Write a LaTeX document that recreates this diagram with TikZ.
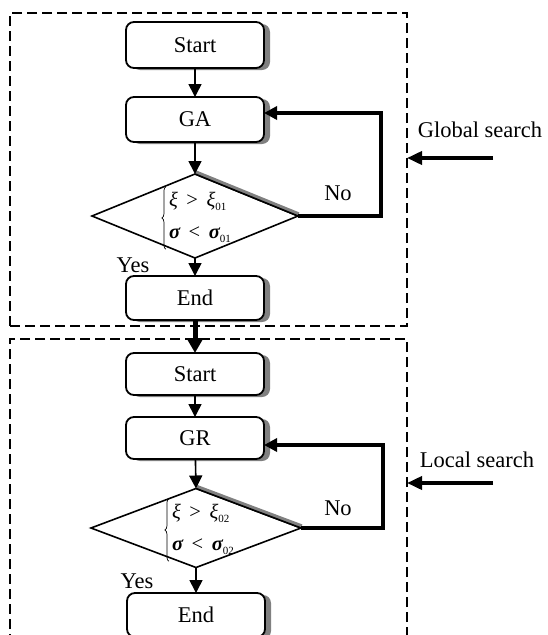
\documentclass[tikz,border=0pt]{standalone}
\usepackage{fontspec}
\setmainfont{Liberation Serif}
\usetikzlibrary{arrows.meta,shapes.geometric,shadows,calc,decorations.pathreplacing}

\newcommand{\sub}[1]{\raisebox{-3.5pt}{\fontsize{11}{11}\selectfont #1}}
\newcommand{\cond}[1]{\begin{tabular}{@{}l@{}}%
  {\itshape ξ} \,>\, {\itshape ξ}\sub{#1}\\[8pt]
  {\bfseries\itshape σ} \,<\, {\bfseries\itshape σ}\sub{#1}%
  \end{tabular}}

\begin{document}
\begin{tikzpicture}[x=1pt,y=-1pt,
  every node/.style={font=\fontsize{22.5}{27}\selectfont},
  box/.style={draw, line width=1.8pt, rounded corners=8pt, fill=white,
    minimum width=138pt, minimum height=44pt, inner sep=0pt, outer sep=0pt,
    drop shadow={shadow xshift=6pt, shadow yshift=-2pt, fill=black!50, opacity=1}},
  decision/.style={diamond, draw, line width=1.6pt, fill=white,
    inner sep=0pt, outer sep=0pt},
  cond/.style={font=\fontsize{20.5}{24}\selectfont, inner sep=0pt},
  condbrace/.style={decorate, decoration={brace, amplitude=4pt}, line width=0.7pt},
  frame/.style={draw, line width=2.4pt, dash pattern=on 10pt off 5pt, inner sep=0pt, outer sep=0pt},
  arr/.style={line width=1.6pt, -{Triangle[width=13pt,length=13pt]}},
  bigarr/.style={line width=5pt, -{Triangle[width=16pt,length=15pt]}},
  loopline/.style={line width=3.6pt, -{Triangle[width=13pt,length=13pt]}},
  sidearr/.style={line width=3.6pt, -{Triangle[width=13pt,length=15pt]}},
  dshadow/.style={line width=3.5pt, black!50},
]
\useasboundingbox (0,0) rectangle (547,635);

% dashed stage frames
\node[frame, minimum width=397pt, minimum height=313pt] (f1) at (208.5,169.5) {};
\node[frame, minimum width=397pt, minimum height=321pt] (f2) at (208.5,499.5) {};

% ---- global search stage ----
\node[box, minimum height=46pt] (s1) at (195,45) {Start};
\node[box, minimum height=45pt] (ga) at (195,119.5) {GA};
\node[decision, minimum width=206pt, minimum height=84pt] (d1) at (195,216) {};
\draw[dshadow] ([shift={(0.8,-1.9)}]d1.north) -- ([shift={(0.8,-1.9)}]d1.east);
\draw[line width=1.6pt] (d1.north) -- (d1.east);
\node[cond] (c1) at (200,218) {\cond{01}};
\draw[condbrace] ([shift={(-3,3)}]c1.south west) -- ([shift={(-3,-3)}]c1.north west);
\node[box] (e1) at (195,298) {End};

\draw[arr] (s1) -- (ga);
\draw[arr] (ga) -- (d1.north);
\draw[arr] (d1.south) -- (e1);
\coordinate (l1) at (381,113);
\draw[loopline] (d1.east) -| (l1) -- (l1 -| ga.east);
\node (no1) at (338,193) {No};
\node (yes1) at (133,265) {Yes};

\node (gs) at (480,130) {Global search};
\coordinate (g0) at (493,158);
\draw[sidearr] (g0) -- (g0 -| f1.east);

% ---- local search stage ----
\node[box, minimum height=42pt] (s2) at (195,374) {Start};
\node[box, minimum height=42pt] (gr) at (195,438) {GR};
\node[decision, minimum width=210pt, minimum height=79pt] (d2) at (196,528) {};
\draw[dshadow] ([shift={(0.8,-1.9)}]d2.north) -- ([shift={(0.8,-1.9)}]d2.east);
\draw[line width=1.6pt] (d2.north) -- (d2.east);
\node[cond] (c2) at (203,530) {\cond{02}};
\draw[condbrace] ([shift={(-3,3)}]c2.south west) -- ([shift={(-3,-3)}]c2.north west);
\node[box] (e2) at (196,615) {End};

\draw[bigarr] (e1) -- (s2);
\draw[arr] (s2) -- (gr);
\draw[arr] (gr) -- (d2.north);
\draw[arr] (d2.south) -- (e2);
\coordinate (l2) at (383,445);
\draw[loopline] (d2.east) -| (l2) -- (l2 -| gr.east);
\node (no2) at (338,508) {No};
\node (yes2) at (137,581) {Yes};

\node (ls) at (477,460) {Local search};
\coordinate (g1) at (493,483);
\draw[sidearr] (g1) -- (g1 -| f2.east);
\end{tikzpicture}
\end{document}
